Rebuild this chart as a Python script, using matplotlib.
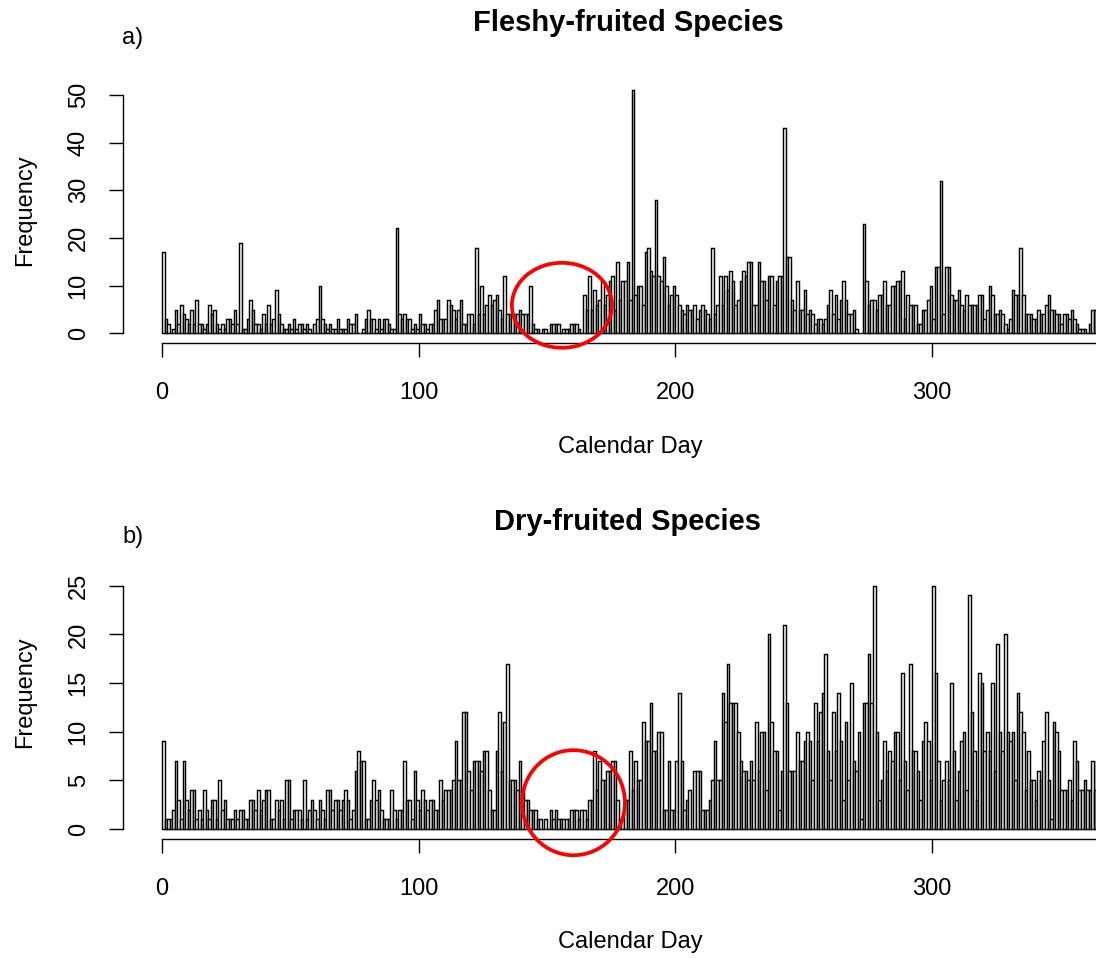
import matplotlib
matplotlib.use("Agg")
import matplotlib.pyplot as plt
from matplotlib.patches import Ellipse

plt.rcParams['font.family'] = ['Liberation Sans', 'DejaVu Sans']

# daily counts, one value per calendar day (0..364)
fleshy = [
    17, 3, 2, 0, 1, 5, 2, 6, 4, 3,
    2, 5, 2, 7, 2, 2, 1, 2, 6, 4,
    5, 2, 1, 2, 1, 3, 3, 2, 5, 2,
    19, 1, 1, 3, 7, 5, 2, 2, 1, 4,
    2, 6, 2, 3, 9, 4, 2, 1, 1, 2,
    1, 3, 1, 2, 2, 1, 2, 1, 0, 2,
    3, 10, 3, 2, 1, 2, 1, 1, 3, 1,
    1, 1, 3, 2, 2, 4, 0, 0, 1, 3,
    5, 3, 3, 1, 3, 1, 3, 3, 2, 1,
    1, 22, 4, 3, 4, 3, 3, 1, 2, 1,
    4, 2, 2, 1, 2, 2, 5, 7, 3, 3,
    3, 7, 6, 5, 3, 5, 7, 2, 2, 4,
    4, 2, 18, 4, 10, 4, 6, 8, 6, 7,
    8, 5, 3, 12, 4, 4, 4, 4, 4, 5,
    4, 4, 4, 10, 2, 1, 1, 0, 1, 1,
    0, 2, 2, 2, 2, 0, 1, 1, 1, 2,
    2, 2, 1, 0, 8, 5, 12, 5, 9, 6,
    7, 11, 6, 8, 11, 12, 5, 15, 7, 11,
    11, 15, 7, 51, 8, 10, 10, 6, 17, 18,
    13, 12, 28, 12, 11, 16, 10, 6, 8, 10,
    8, 6, 5, 4, 6, 5, 5, 6, 3, 5,
    6, 5, 4, 3, 18, 4, 6, 12, 6, 12,
    9, 13, 11, 6, 7, 11, 13, 12, 15, 15,
    6, 6, 15, 11, 11, 7, 12, 12, 6, 11,
    12, 12, 43, 16, 16, 7, 5, 11, 5, 5,
    9, 4, 5, 4, 2, 3, 3, 2, 3, 6,
    9, 4, 8, 3, 7, 11, 7, 4, 4, 5,
    1, 0, 0, 23, 11, 6, 7, 7, 5, 8,
    8, 11, 6, 6, 10, 10, 11, 11, 13, 3,
    8, 6, 6, 6, 2, 2, 5, 5, 7, 10,
    3, 14, 14, 32, 4, 14, 14, 8, 7, 7,
    9, 6, 5, 8, 6, 6, 6, 6, 8, 8,
    3, 5, 10, 8, 4, 4, 5, 4, 2, 1,
    3, 9, 8, 8, 18, 8, 4, 4, 4, 3,
    3, 5, 4, 4, 6, 8, 5, 5, 4, 4,
    2, 4, 4, 3, 5, 3, 2, 1, 1, 1,
    0, 2, 5, 5, 5,
]

dry = [
    9, 1, 1, 1, 2, 7, 3, 1, 7, 3,
    2, 4, 4, 1, 2, 1, 4, 2, 1, 3,
    3, 1, 5, 2, 3, 1, 1, 1, 2, 1,
    2, 2, 1, 1, 3, 3, 2, 4, 2, 3,
    4, 4, 1, 1, 3, 2, 3, 1, 5, 5,
    1, 2, 2, 2, 1, 5, 1, 2, 3, 2,
    1, 3, 2, 1, 4, 4, 2, 3, 3, 2,
    3, 4, 3, 1, 2, 6, 8, 7, 7, 1,
    1, 3, 5, 3, 4, 2, 1, 1, 1, 4,
    2, 1, 2, 2, 7, 3, 3, 1, 6, 3,
    2, 4, 3, 2, 3, 3, 2, 2, 5, 3,
    4, 4, 4, 5, 9, 5, 5, 12, 12, 6,
    4, 7, 7, 7, 6, 8, 8, 4, 2, 2,
    8, 12, 6, 11, 17, 5, 5, 5, 4, 7,
    4, 3, 3, 2, 2, 2, 1, 1, 0, 1,
    0, 2, 1, 2, 1, 1, 1, 1, 1, 2,
    2, 2, 1, 2, 2, 1, 3, 3, 8, 4,
    7, 5, 5, 6, 6, 7, 7, 3, 1, 1,
    3, 3, 8, 4, 7, 5, 5, 11, 9, 9,
    13, 8, 8, 10, 10, 2, 2, 7, 2, 2,
    7, 14, 7, 2, 3, 4, 0, 6, 6, 6,
    2, 2, 2, 3, 5, 9, 5, 5, 14, 11,
    17, 13, 13, 13, 10, 7, 6, 6, 5, 7,
    5, 11, 6, 10, 10, 4, 20, 11, 8, 8,
    2, 6, 21, 13, 6, 6, 6, 10, 7, 7,
    9, 10, 9, 5, 13, 9, 12, 14, 18, 8,
    5, 12, 8, 14, 9, 3, 11, 5, 15, 7,
    6, 10, 1, 13, 13, 18, 13, 25, 10, 3,
    5, 9, 6, 8, 7, 10, 10, 5, 16, 7,
    4, 17, 8, 8, 6, 3, 9, 11, 9, 5,
    25, 16, 7, 3, 5, 7, 5, 15, 8, 3,
    6, 9, 10, 4, 24, 12, 8, 3, 16, 15,
    8, 10, 8, 15, 6, 19, 10, 8, 20, 10,
    9, 10, 5, 14, 12, 10, 4, 8, 5, 5,
    3, 6, 5, 9, 12, 5, 1, 11, 10, 8,
    4, 4, 4, 5, 3, 9, 7, 4, 4, 5,
    4, 4, 7, 4, 7,
]

days = list(range(len(fleshy)))
titles = ["Fleshy-fruited Species", "Dry-fruited Species"]
panel_tags = ["a)", "b)"]
y_ticks = [[0, 10, 20, 30, 40, 50], [0, 5, 10, 15, 20, 25]]
x_ticks = [0, 100, 200, 300]

W, H = 1096, 958
fig = plt.figure(figsize=(W / 100, H / 100), dpi=100)

# axes boxes in pixels: (bottom_px, top_px, ylim)
boxes = [(343, 80, (-2.0, 53.1)), (839, 577, (-1.03, 25.9))]
x_left_px, x0_px, px_per_day = 123, 162, 2.567
xlim = ((x_left_px - x0_px) / px_per_day, (W - x0_px) / px_per_day)

axes = []
for i, counts in enumerate([fleshy, dry]):
    bot, top, ylim = boxes[i]
    ax = fig.add_axes([x_left_px / W, 1 - bot / H, 1 - x_left_px / W, (bot - top) / H])
    ax.bar(days, counts, width=1, align='edge', facecolor='white',
           edgecolor='black', linewidth=1.05)
    ax.set_xlim(*xlim)
    ax.set_ylim(*ylim)
    for s in ['top', 'right']:
        ax.spines[s].set_visible(False)
    ax.spines['left'].set_bounds(y_ticks[i][0], y_ticks[i][-1])
    ax.spines['bottom'].set_bounds(0, xlim[1])
    ax.spines['left'].set_linewidth(1.0)
    ax.spines['bottom'].set_linewidth(1.0)
    ax.set_xticks(x_ticks)
    ax.set_yticks(y_ticks[i])
    ax.tick_params(direction='out', length=10, width=1.0, labelsize=17, pad=14)
    ax.tick_params(axis='x', pad=18)
    for lab in ax.get_yticklabels():
        lab.set_rotation(90)
        lab.set_va('center')
    axes.append(ax)

    # titles and labels placed like the R output
    ty = 23 if i == 0 else 522
    fig.text(628 / W, 1 - ty / H, titles[i], ha='center', va='center',
             fontsize=21, fontweight='bold')
    fig.text(122 / W, 1 - (ty + 15) / H, panel_tags[i], ha='left', va='center', fontsize=17)
    fy = 210 if i == 0 else 692
    fig.text(25 / W, 1 - fy / H, "Frequency", rotation=90, ha='center', va='center', fontsize=17)
    ly = 447 if i == 0 else 942
    fig.text(630 / W, 1 - ly / H, "Calendar Day", ha='center', va='center', fontsize=17)

# red circles highlighting the mid-year gap
axes[0].add_patch(Ellipse((155.8, 5.9), 39, 17.8, fill=False, edgecolor='red',
                          linewidth=2.7, clip_on=False, zorder=5))
axes[1].add_patch(Ellipse((160.3, 2.7), 40.1, 10.8, fill=False, edgecolor='red',
                          linewidth=2.7, clip_on=False, zorder=5))

fig.savefig("out.png", dpi=100)
